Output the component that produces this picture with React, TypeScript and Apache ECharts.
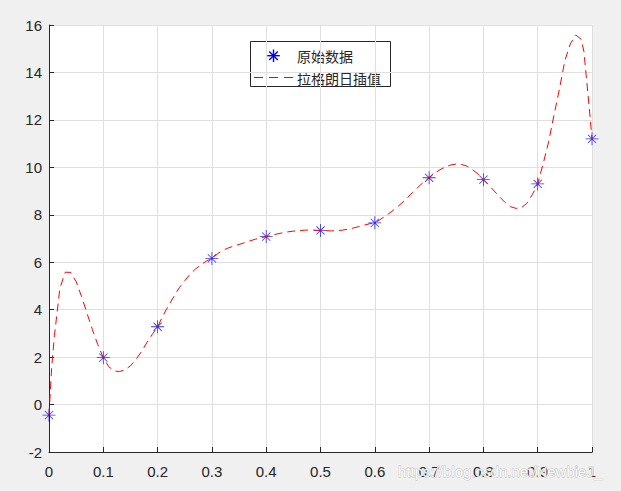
import React, { useEffect, useRef } from "react";
import * as echarts from "echarts";

// Original data points
const dataX = [0, 0.1, 0.2, 0.3, 0.4, 0.5, 0.6, 0.7, 0.8, 0.9, 1.0];
const dataY = [-0.447, 1.978, 3.28, 6.16, 7.08, 7.34, 7.66, 9.56, 9.48, 9.3, 11.2];

// Lagrange interpolation curve
const curveX = [
  0, 0.005, 0.01, 0.02, 0.03, 0.04, 0.05, 0.06, 0.07, 0.08, 0.09,
  0.1, 0.11, 0.12, 0.13, 0.14, 0.15, 0.16, 0.17, 0.18, 0.19,
  0.2, 0.21, 0.22, 0.23, 0.24, 0.25, 0.26, 0.27, 0.28, 0.29,
  0.3, 0.31, 0.32, 0.33, 0.34, 0.35, 0.36, 0.37, 0.38, 0.39,
  0.4, 0.41, 0.42, 0.43, 0.44, 0.45, 0.46, 0.47, 0.48, 0.49,
  0.5, 0.51, 0.52, 0.53, 0.54, 0.55, 0.56, 0.57, 0.58, 0.59,
  0.6, 0.61, 0.62, 0.63, 0.64, 0.65, 0.66, 0.67, 0.68, 0.69,
  0.7, 0.71, 0.72, 0.73, 0.74, 0.75, 0.76, 0.77, 0.78, 0.79,
  0.8, 0.81, 0.82, 0.83, 0.84, 0.85, 0.86, 0.87, 0.88, 0.89,
  0.9, 0.91, 0.92, 0.93, 0.94, 0.95, 0.96, 0.97, 0.98, 0.985, 0.99, 0.995, 1.0,
];
const curveY = [
  -0.447, 1.6, 2.9, 4.9, 5.58, 5.57, 5.18, 4.55, 3.85, 3.15, 2.52,
  1.978, 1.6, 1.42, 1.39, 1.47, 1.63, 1.9, 2.22, 2.6, 2.95,
  3.28, 3.75, 4.17, 4.55, 4.93, 5.22, 5.5, 5.72, 5.9, 6.05,
  6.16, 6.35, 6.5, 6.6, 6.68, 6.75, 6.82, 6.9, 6.97, 7.03,
  7.08, 7.14, 7.19, 7.24, 7.28, 7.31, 7.33, 7.35, 7.36, 7.35,
  7.34, 7.33, 7.32, 7.33, 7.35, 7.39, 7.44, 7.5, 7.56, 7.62,
  7.66, 7.8, 7.95, 8.12, 8.3, 8.5, 8.72, 8.95, 9.17, 9.38,
  9.56, 9.75, 9.9, 10.02, 10.1, 10.14, 10.12, 10.05, 9.9, 9.72,
  9.48, 9.25, 9.0, 8.75, 8.52, 8.34, 8.27, 8.3, 8.48, 8.85,
  9.3, 10.15, 11.06, 12.2, 13.3, 14.5, 15.2, 15.58, 15.4, 14.9, 13.7, 12.5, 11.2,
];

const xTickLabels = ["0", "0.1", "0.2", "0.3", "0.4", "0.5", "0.6", "0.7", "0.8", "0.9", "1"];
const legendNames = ["原始数据", "拉格朗日插值"];
const watermark = "https://blog.csdn.net/NewbieJ_";

const STAR =
  "path://M11.25 0H12.75V24H11.25Z M0 11.25H24V12.75H0Z " +
  "M4.97 3.91L20.09 19.03L19.03 20.09L3.91 4.97Z " +
  "M20.09 4.97L4.97 20.09L3.91 19.03L19.03 3.91Z";

export default function App() {
  const ref = useRef<HTMLDivElement>(null);
  useEffect(() => {
    if (!ref.current) return;
    const chart = echarts.init(ref.current, null, { renderer: "svg" });
    const axisColor = "#262626";
    const font = "'Liberation Sans', Arial, Helvetica, sans-serif";
    const cjk = "'Noto Sans CJK SC', sans-serif";
    const lx = 250, ly = 41;
    chart.setOption({
      animation: false,
      backgroundColor: "#f0f0f0",
      grid: {
        left: 49, right: 29, top: 25, bottom: 39,
        show: true, backgroundColor: "#ffffff", borderWidth: 0,
      },
      xAxis: {
        type: "value", min: 0, max: 1, interval: 0.1,
        axisLine: { show: true, onZero: false, lineStyle: { color: axisColor, width: 1 } },
        axisTick: { show: true, inside: true, length: 5, lineStyle: { color: axisColor } },
        axisLabel: {
          color: axisColor, fontSize: 15, fontFamily: font, margin: 12,
          formatter: (v: number) => xTickLabels[Math.round(v * 10)] ?? "",
        },
        splitLine: { show: true, showMinLine: true, showMaxLine: true, lineStyle: { color: "#dfdfdf", width: 1 } },
      },
      yAxis: {
        type: "value", min: -2, max: 16, interval: 2,
        axisLine: { show: true, onZero: false, lineStyle: { color: axisColor, width: 1 } },
        axisTick: { show: true, inside: true, length: 5, lineStyle: { color: axisColor } },
        axisLabel: { color: axisColor, fontSize: 15, fontFamily: font, margin: 7 },
        splitLine: { show: true, showMinLine: true, showMaxLine: true, lineStyle: { color: "#dfdfdf", width: 1 } },
      },
      series: [
        {
          name: legendNames[0],
          type: "scatter",
          data: dataX.map((x, i) => [x, dataY[i]]),
          symbol: STAR,
          symbolSize: 13,
          itemStyle: { color: "#0000ff" },
          z: 2,
        },
        {
          name: legendNames[1],
          type: "line",
          data: curveX.map((x, i) => [x, curveY[i]]),
          showSymbol: false,
          symbol: "none",
          smooth: false,
          lineStyle: { color: "#ff0000", width: 1, type: [8, 5] },
          z: 3,
        },
      ],
      graphic: [
        {
          type: "group",
          z: 100,
          children: [
            {
              type: "rect",
              shape: { x: lx + 0.5, y: ly + 0.5, width: 140, height: 45 },
              style: { fill: "#ffffff", stroke: "#262626", lineWidth: 1 },
            },
            // asterisk icon
            { type: "line", shape: { x1: 273.5, y1: 49.5, x2: 273.5, y2: 62 }, style: { stroke: "#0000ff", lineWidth: 1.4 } },
            { type: "line", shape: { x1: 267.2, y1: 55.7, x2: 279.8, y2: 55.7 }, style: { stroke: "#0000ff", lineWidth: 1.4 } },
            { type: "line", shape: { x1: 269.2, y1: 51.4, x2: 277.8, y2: 60 }, style: { stroke: "#0000ff", lineWidth: 1.4 } },
            { type: "line", shape: { x1: 277.8, y1: 51.4, x2: 269.2, y2: 60 }, style: { stroke: "#0000ff", lineWidth: 1.4 } },
            {
              type: "text",
              x: 297, y: 56,
              style: { text: legendNames[0], fill: axisColor, font: `14px ${cjk}`, verticalAlign: "middle", align: "left" },
            },
            {
              type: "line",
              shape: { x1: 254, y1: 77.5, x2: 293, y2: 77.5 },
              style: { stroke: "#ff0000", lineWidth: 1, lineDash: [9, 6] },
            },
            {
              type: "text",
              x: 297, y: 77.5,
              style: { text: legendNames[1], fill: axisColor, font: `14px ${cjk}`, verticalAlign: "middle", align: "left" },
            },
          ],
        },
        {
          type: "text",
          z: 101,
          x: 398, y: 471,
          style: {
            text: watermark,
            fill: "rgba(255,255,255,0.9)",
            stroke: "rgba(170,170,170,0.7)",
            lineWidth: 0.8,
            font: `15px ${font}`,
            verticalAlign: "middle",
            align: "left",
          },
        },
      ],
    });
    return () => chart.dispose();
  }, []);
  return (
    <div
      ref={ref}
      style={{ position: "fixed", left: 0, top: 0, width: 621, height: 491 }}
    />
  );
}
